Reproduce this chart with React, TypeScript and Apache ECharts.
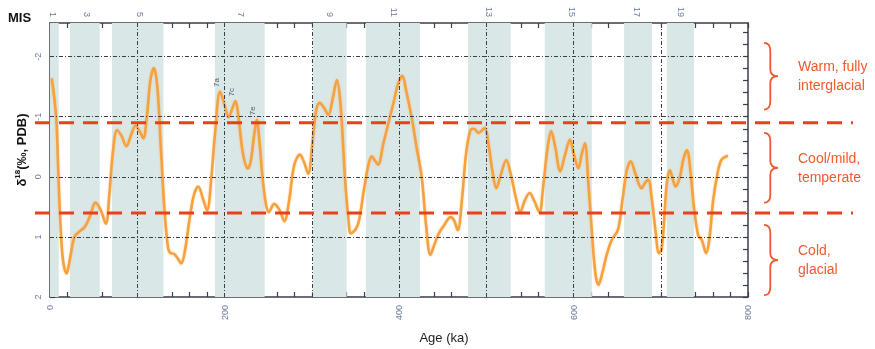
import React, { useEffect, useRef } from "react";
import * as echarts from "echarts";

// ---- data ----
const ages = [2, 5, 7.5, 9.5, 12, 15, 19, 23, 28, 33, 40, 46, 52, 58, 64, 68, 72, 77, 82, 87.6, 93, 98, 103, 107, 111, 115, 119, 123, 127, 131, 135, 138, 142, 146, 150.5, 155, 160, 165, 170, 175, 180, 185, 189, 195, 200, 204.6, 208, 212.6, 216, 221, 226.7, 230, 234, 237, 240, 245, 251, 257, 263, 268.6, 274, 280, 286.5, 291, 296, 301, 305, 309, 314, 319, 324, 328.8, 333, 338, 342, 344.8, 350, 354, 360, 365, 368.8, 372, 376, 382, 388, 394, 399, 403.8, 408, 415, 420, 426, 431, 436, 440, 445.7, 452, 459, 463, 467.4, 472, 477, 482, 486, 491, 498, 503, 507, 511.6, 516, 523, 528, 534, 539, 544, 549.7, 555, 561, 565, 570, 574.5, 579, 584.8, 590, 596, 600, 605.7, 609, 613, 617, 621, 625, 628.6, 633, 638, 643.8, 651, 656, 661, 665.5, 671, 678, 682, 685.7, 690, 694, 698, 701, 704, 707, 710.5, 714, 717, 722, 726, 730, 734, 738, 743, 747, 752, 756, 760, 765, 769.5, 777];
const d18O = [-1.64, -1.3, -0.9, -0.1, 0.8, 1.4, 1.61, 1.35, 1.0, 0.92, 0.83, 0.65, 0.43, 0.55, 0.78, 0.3, -0.4, -0.78, -0.68, -0.51, -0.7, -0.85, -0.75, -0.64, -1.0, -1.6, -1.81, -1.5, -0.5, 0.5, 1.15, 1.27, 1.28, 1.35, 1.44, 1.2, 0.7, 0.3, 0.16, 0.35, 0.56, 0.0, -0.7, -1.42, -1.2, -0.99, -1.1, -1.26, -1.0, -0.4, -0.14, -0.25, -0.7, -0.95, -0.6, 0.2, 0.59, 0.45, 0.55, 0.74, 0.4, -0.2, -0.37, -0.25, -0.05, -0.6, -1.1, -1.23, -1.15, -1.03, -1.3, -1.61, -1.2, 0.0, 0.7, 0.94, 0.88, 0.74, 0.2, -0.2, -0.34, -0.28, -0.2, -0.55, -0.9, -1.25, -1.55, -1.68, -1.45, -0.95, -0.5, 0.0, 0.8, 1.3, 1.15, 0.94, 0.8, 0.67, 0.72, 0.89, 0.4, -0.4, -0.78, -0.8, -0.73, -0.81, -0.5, -0.1, 0.19, 0.0, -0.28, -0.05, 0.35, 0.59, 0.4, 0.27, 0.4, 0.59, 0.2, -0.45, -0.76, -0.5, -0.09, -0.35, -0.62, -0.4, -0.14, -0.35, -0.56, 0.1, 0.9, 1.6, 1.8, 1.6, 1.3, 1.05, 0.88, 0.4, -0.1, -0.26, -0.05, 0.19, 0.1, 0.05, 0.4, 0.9, 1.27, 1.2, 0.7, 0.1, -0.11, 0.05, 0.16, 0.0, -0.3, -0.44, -0.1, 0.5, 0.98, 1.05, 1.27, 1.0, 0.4, -0.05, -0.28, -0.35];

const bandStarts = [0, 23, 71, 189, 301, 362, 479, 567, 658, 707];
const bandEnds = [10, 57, 130, 246, 340, 424, 528, 621, 690, 738];

const misAges = [4, 42, 103, 219, 321, 394, 503, 598, 673, 723];
const misLabels = ["1", "3", "5", "7", "9", "11", "13", "15", "17", "19"];

const substageAges = [195, 212.6, 237];
const substageValues = [-1.42, -1.26, -0.95];
const substageLabels = ["7a", "7c", "7e"];

const xTickLabels = [0, 200, 400, 600, 800];
const xMinorTicks = [0, 20, 40, 60, 80, 100, 120, 140, 160, 180, 200, 220, 240, 260, 280, 300, 320, 340, 360, 380, 400, 420, 440, 460, 480, 500, 520, 540, 560, 580, 600, 620, 640, 660, 680, 700, 720, 740, 760, 780, 800];
const yTickLabels = [-2, -1, 0, 1, 2];
const yMinorTicks = [-2.4, -2.2, -2, -1.8, -1.6, -1.4, -1.2, -1, -0.8, -0.6, -0.4, -0.2, 0, 0.2, 0.4, 0.6, 0.8, 1, 1.2, 1.4, 1.6, 1.8, 2];
const xGridLines = [100, 200, 300, 400, 500, 600, 700];
const yGridLines = [-2, -1, 0, 1];

const thresholds = [-0.9, 0.6];
const zoneFrom = [-2.23, -0.73, 0.8];
const zoneTo = [-1.12, 0.43, 1.97];
const zoneText = [["Warm, fully", "interglacial"], ["Cool/mild,", "temperate"], ["Cold,", "glacial"]];

// ---- brace shape ----
const Brace = echarts.graphic.extendShape({
  shape: { x: 0, y: 0, w: 14, h: 60 },
  buildPath(ctx: any, s: any) {
    const { x, y, w, h } = s;
    const m = y + h / 2;
    const sx = x + w * 0.45;
    ctx.moveTo(x, y);
    ctx.quadraticCurveTo(sx, y, sx, y + 8);
    ctx.lineTo(sx, m - 7);
    ctx.quadraticCurveTo(sx, m, x + w, m);
    ctx.quadraticCurveTo(sx, m, sx, m + 7);
    ctx.lineTo(sx, y + h - 8);
    ctx.quadraticCurveTo(sx, y + h, x, y + h);
  },
});
echarts.graphic.registerShape("brace", Brace);

const AXIS_COLOR = "#3b3e4a";
const LABEL_COLOR = "#6a7a9c";
const ZONE_COLOR = "#ef5a2c";
const FONT = "Arial, 'Liberation Sans', Helvetica, sans-serif";

export default function App() {
  const ref = useRef<HTMLDivElement>(null);

  useEffect(() => {
    if (!ref.current) return;
    const chart = echarts.init(ref.current, undefined, { renderer: "svg" });

    const xAxisCommon = {
      type: "value" as const,
      min: 0,
      max: 800,
      axisLine: { show: true, onZero: false, lineStyle: { color: AXIS_COLOR, width: 1.5 } },
      axisTick: { show: true, inside: true, length: 5, customValues: xMinorTicks, lineStyle: { color: AXIS_COLOR, width: 1.2 } },
      splitLine: { show: false },
    };
    const yAxisCommon = {
      type: "value" as const,
      min: -2.56,
      max: 2,
      inverse: true,
      axisLine: { show: true, onZero: false, lineStyle: { color: AXIS_COLOR, width: 1.5 } },
      axisTick: { show: true, inside: true, length: 5, customValues: yMinorTicks, lineStyle: { color: AXIS_COLOR, width: 1.2 } },
      splitLine: { show: false },
    };

    chart.setOption({
      animation: false,
      grid: { left: 50, right: 127, top: 23, bottom: 52 },
      xAxis: [
        {
          ...xAxisCommon,
          position: "bottom",
          axisLabel: { customValues: xTickLabels, rotate: 90, fontSize: 9, color: LABEL_COLOR, margin: 8, fontFamily: FONT },
        },
        {
          ...xAxisCommon,
          position: "top",
          axisLabel: {
            customValues: misAges,
            rotate: 90,
            fontSize: 9,
            color: LABEL_COLOR,
            margin: 6,
            fontFamily: FONT,
            formatter: (v: number) => {
              const i = misAges.indexOf(v);
              return i >= 0 ? misLabels[i] : "";
            },
          },
        },
      ],
      yAxis: [
        {
          ...yAxisCommon,
          position: "left",
          axisLabel: { customValues: yTickLabels, rotate: 90, fontSize: 9, color: LABEL_COLOR, margin: 8, fontFamily: FONT },
        },
        {
          ...yAxisCommon,
          position: "right",
          axisLabel: { show: false },
        },
      ],
      series: [
        {
          type: "line",
          z: 1,
          silent: true,
          data: [[0, 0]],
          showSymbol: false,
          lineStyle: { opacity: 0 },
          markArea: {
            silent: true,
            itemStyle: { color: "#dae7e7" },
            data: bandStarts.map((s, i) => [{ xAxis: s }, { xAxis: bandEnds[i] }]),
          },
        },
        {
          type: "line",
          z: 2,
          silent: true,
          data: [[0, 0]],
          showSymbol: false,
          lineStyle: { opacity: 0 },
          markLine: {
            silent: true,
            symbol: ["none", "none"],
            label: { show: false },
            lineStyle: { color: "#3a3d48", width: 1, type: [4, 2, 1, 2] },
            data: [
              ...xGridLines.map((v) => ({ xAxis: v })),
              ...yGridLines.map((v) => ({ yAxis: v })),
            ],
          },
        },
        {
          type: "line",
          z: 3,
          data: ages.map((a, i) => [a, d18O[i]]),
          smooth: 0.35,
          showSymbol: false,
          lineStyle: { color: "#f6a13d", width: 2.6, shadowColor: "rgba(246,161,61,0.45)", shadowBlur: 2 },
          markPoint: {
            silent: true,
            symbol: "circle",
            symbolSize: 0,
            label: {
              show: true,
              position: "top",
              distance: 9,
              rotate: 90,
              fontSize: 8,
              color: "#4f5a73",
              fontFamily: FONT,
              formatter: (p: any) => p.name,
            },
            data: substageAges.map((a, i) => ({ name: substageLabels[i], coord: [a, substageValues[i]] })),
          },
        },
      ],
    });

    const yPix = (v: number) => chart.convertToPixel({ yAxisIndex: 0 }, v) as number;

    const graphics: any[] = [];
    thresholds.forEach((t) => {
      const y = yPix(t);
      graphics.push({
        type: "line",
        z: 100,
        silent: true,
        shape: { x1: 35, y1: y, x2: 853, y2: y },
        style: { stroke: "#e8401d", lineWidth: 3, lineDash: [15, 9] },
      });
    });
    zoneFrom.forEach((f, i) => {
      const y1 = yPix(f);
      const y2 = yPix(zoneTo[i]);
      graphics.push({
        type: "brace",
        z: 100,
        silent: true,
        shape: { x: 764, y: y1, w: 14, h: y2 - y1 },
        style: { stroke: ZONE_COLOR, lineWidth: 1.8, fill: "none" },
      });
      const mid = (y1 + y2) / 2;
      zoneText[i].forEach((line, j) => {
        graphics.push({
          type: "text",
          z: 100,
          silent: true,
          x: 798,
          y: mid - 10 + j * 19,
          style: { text: line, fill: ZONE_COLOR, font: `14px ${FONT}`, textAlign: "left", textVerticalAlign: "middle" },
        });
      });
    });
    graphics.push({
      type: "text",
      silent: true,
      x: 8,
      y: 17,
      style: { text: "MIS", fill: "#111", font: `bold 13px ${FONT}`, textAlign: "left", textVerticalAlign: "middle" },
    });
    graphics.push({
      type: "text",
      silent: true,
      x: 444,
      y: 337,
      style: { text: "Age (ka)", fill: "#222", font: `13px ${FONT}`, textAlign: "center", textVerticalAlign: "middle" },
    });
    graphics.push({
      type: "text",
      silent: true,
      x: 21,
      y: 150,
      rotation: Math.PI / 2,
      style: {
        text: "δ{sup|18}(‰, PDB)",
        fill: "#111",
        font: `bold 13px ${FONT}`,
        textAlign: "center",
        textVerticalAlign: "middle",
        rich: {
          sup: { fontSize: 8, fontWeight: "bold", fill: "#111", verticalAlign: "top", padding: [0, 0, 7, 0] },
        },
      },
    });

    chart.setOption({ graphic: graphics });

    return () => chart.dispose();
  }, []);

  return <div ref={ref} style={{ position: "fixed", left: 0, top: 0, width: 875, height: 349 }} />;
}
